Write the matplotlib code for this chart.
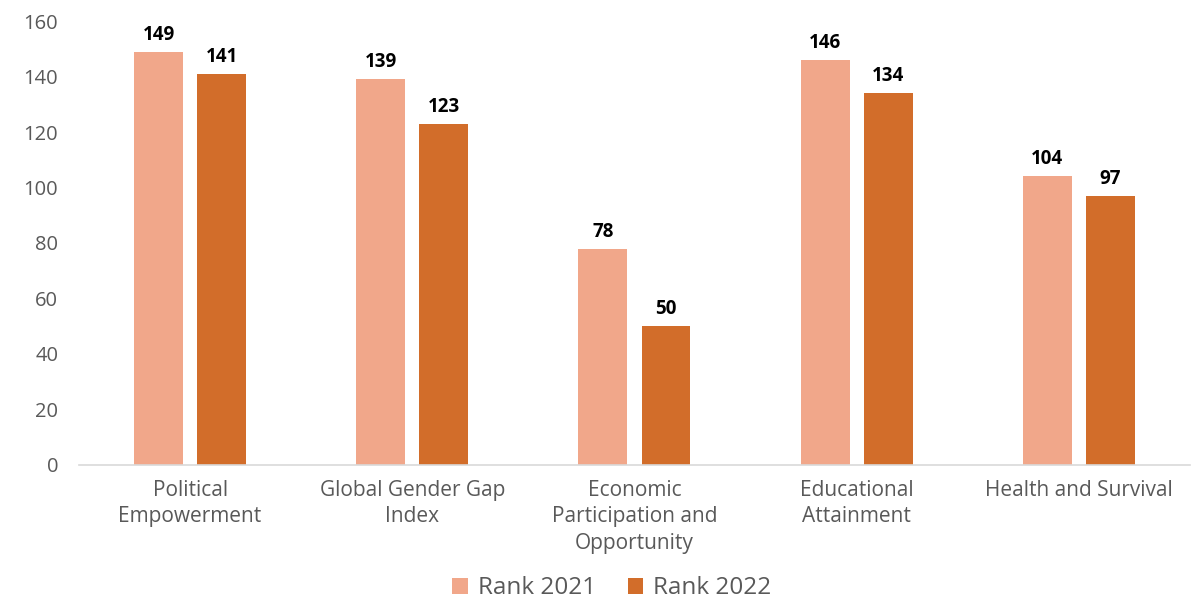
import matplotlib
matplotlib.use("Agg")
import matplotlib.pyplot as plt
import numpy as np

categories = ["Political\nEmpowerment", "Global Gender Gap\nIndex", "Economic\nParticipation and\nOpportunity", "Educational\nAttainment", "Health and Survival"]
rank_2021 = [149, 139, 78, 146, 104]
rank_2022 = [141, 123, 50, 134, 97]
series_names = ["Rank 2021", "Rank 2022"]
yticks = [0, 20, 40, 60, 80, 100, 120, 140, 160]

c1 = "#F1A78A"
c2 = "#D26D2A"
gray = "#595959"

plt.rcParams['font.family'] = ['Open Sans', 'DejaVu Sans']

fig = plt.figure(figsize=(11.95, 6.02), dpi=100)
ax = fig.add_axes([0.0661, 0.2276, 0.9297, 0.7375])

x = np.arange(len(categories))
w = 0.22
off = 0.142
b1 = ax.bar(x - off, rank_2021, w, color=c1, label=series_names[0])
b2 = ax.bar(x + off, rank_2022, w, color=c2, label=series_names[1])

for bars, vals in ((b1, rank_2021), (b2, rank_2022)):
    for r, v in zip(bars, vals):
        ax.annotate(str(v), (r.get_x() + r.get_width() / 2, v), xytext=(0, 5),
                    textcoords="offset points", ha="center", va="bottom",
                    fontsize=13.5, fontweight="bold", color="black")

ax.set_xlim(-0.5, len(categories) - 0.5)
ax.set_ylim(0, 160)
ax.set_yticks(yticks)
ax.set_xticks(x)
ax.set_xticklabels(categories, fontsize=15, color=gray, linespacing=1.35, va="top")
ax.tick_params(axis="y", labelsize=14.5, labelcolor=gray, length=0, pad=15)
ax.tick_params(axis="x", length=0, pad=10.5)
for s in ("top", "right", "left"):
    ax.spines[s].set_visible(False)
ax.spines["bottom"].set_color("#D9D9D9")
ax.spines["bottom"].set_linewidth(1.2)

leg = fig.legend(loc="center", bbox_to_anchor=(0.512, 0.023), ncol=2, frameon=False,
                 fontsize=17.5, handlelength=0.65, handleheight=0.65, handletextpad=0.4,
                 columnspacing=1.3)
for t in leg.get_texts():
    t.set_color(gray)

fig.savefig("out.png", dpi=100)
